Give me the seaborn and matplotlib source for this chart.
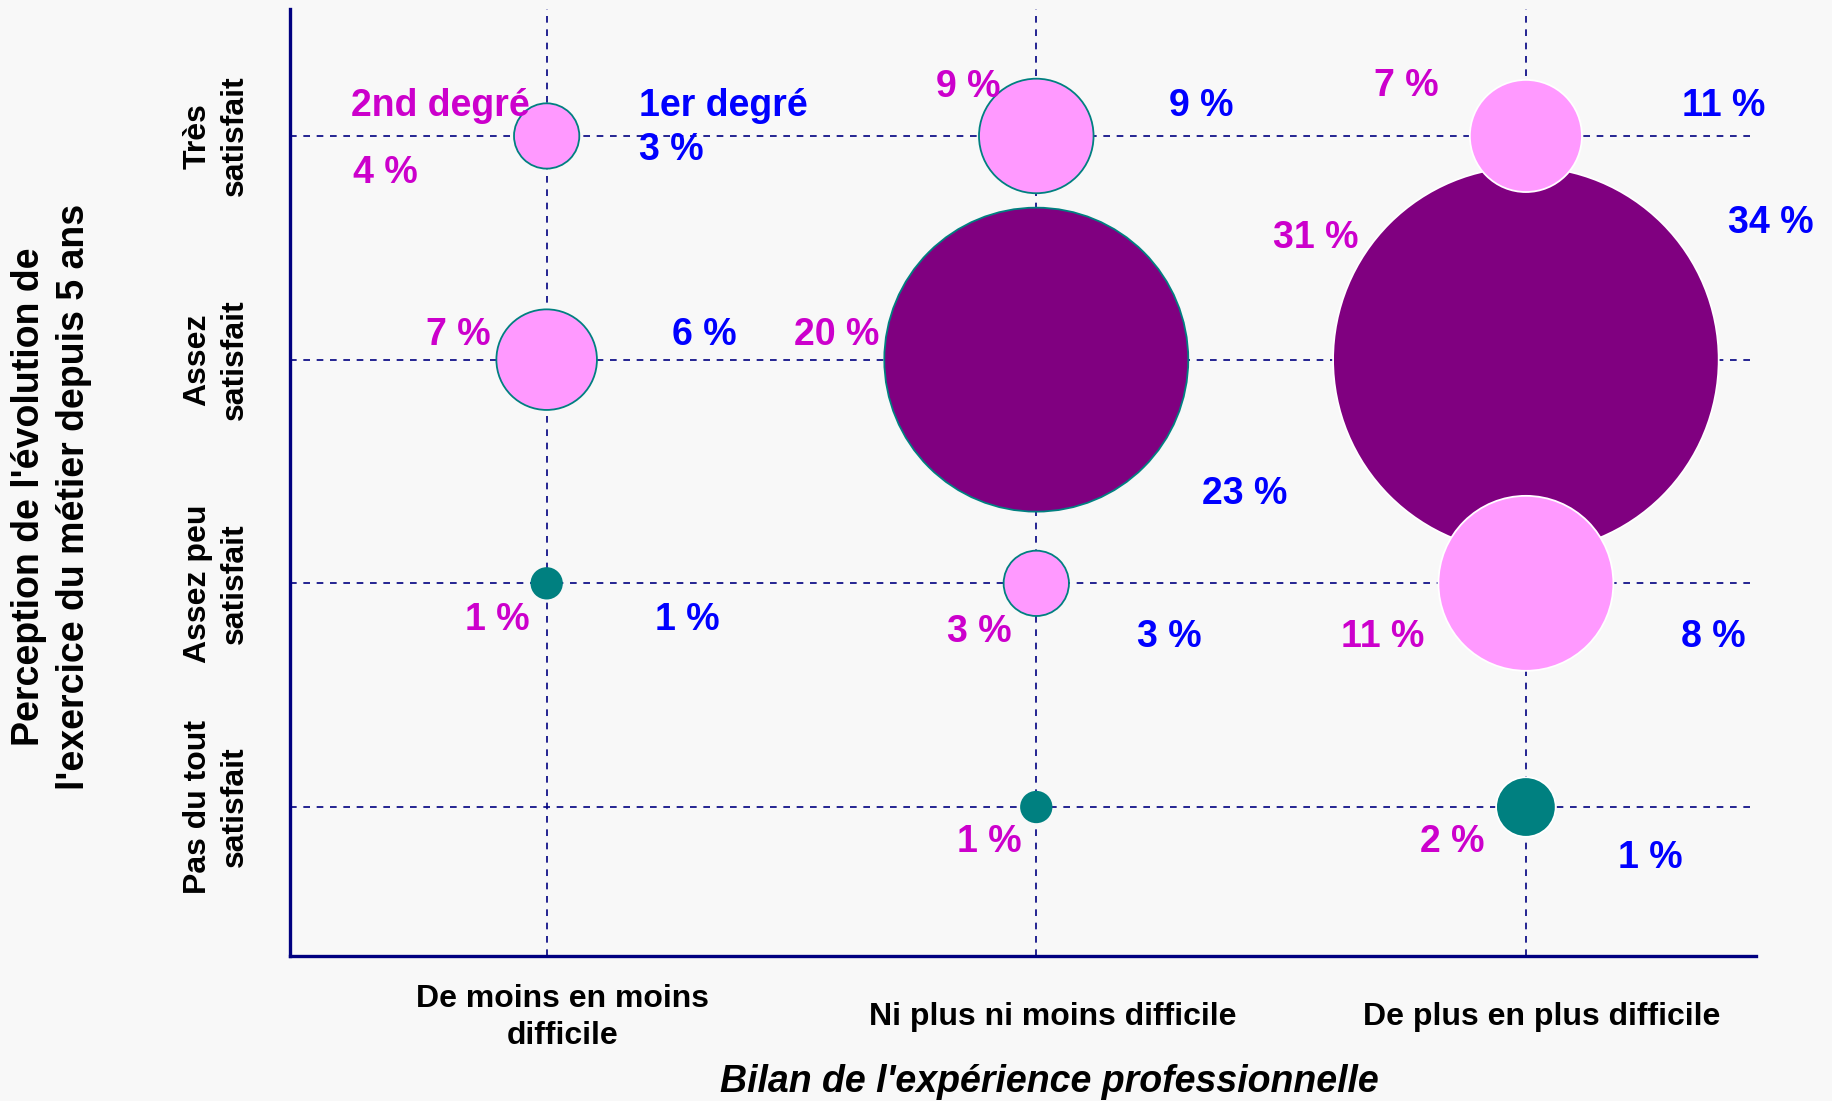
"""Bubble chart: perception of the job's evolution vs. professional experience."""

import matplotlib.pyplot as plt
import pandas as pd
import seaborn as sns
from matplotlib.transforms import ScaledTranslation

# categories (axis order: left to right, bottom to top)
bilan_cats = ["De moins en moins difficile", "Ni plus ni moins difficile", "De plus en plus difficile"]
bilan_ticks = ["De moins en moins\ndifficile", "Ni plus ni moins difficile", "De plus en plus difficile"]
perception_cats = ["Pas du tout satisfait", "Assez peu satisfait", "Assez satisfait", "Très satisfait"]
perception_ticks = ["Pas du tout\nsatisfait", "Assez peu\nsatisfait", "Assez\nsatisfait", "Très\nsatisfait"]

# one entry per bubble
bilan = ["De moins en moins difficile", "Ni plus ni moins difficile", "De plus en plus difficile",
         "De moins en moins difficile", "Ni plus ni moins difficile", "De plus en plus difficile",
         "De moins en moins difficile", "Ni plus ni moins difficile", "De plus en plus difficile",
         "Ni plus ni moins difficile", "De plus en plus difficile"]
perception = ["Très satisfait", "Très satisfait", "Très satisfait",
              "Assez satisfait", "Assez satisfait", "Assez satisfait",
              "Assez peu satisfait", "Assez peu satisfait", "Assez peu satisfait",
              "Pas du tout satisfait", "Pas du tout satisfait"]
pct_2nd = [4, 9, 7, 7, 20, 31, 1, 3, 11, 1, 2]
pct_1er = [3, 9, 11, 6, 23, 34, 1, 3, 8, None, 1]
bubble = [7.8, 24, 23, 18.5, 169, 272, 1.7, 7.8, 56, 1.7, 6.5]
niveau = ["rose", "rose", "rose", "rose", "violet", "violet",
          "sarcelle", "rose", "rose", "sarcelle", "sarcelle"]

# label placement around each grid crossing (pixels)
off_2nd = [(-161, -37), (-68, 49), (-120, 50), (-88, 25), (-200, 25), (-210, 122),
           (-49, -37), (-57, -49), (-143, -54), (-47, -35), (-74, -35)]
off_1er = [(125, -14), (165, 30), (198, 30), (158, 25), (208, -134), (245, 137),
           (141, -37), (133, -54), (187, -54), None, (124, -51)]

NAVY = "#000080"
MAGENTA = "#CC00CC"
BLUE = "#0000FF"
BG = "#F8F8F8"
palette = {"rose": "#FF99FF", "violet": "#800080", "sarcelle": "#008080"}

sns.set_theme(style="white")
plt.rcParams["font.family"] = ["Liberation Sans", "DejaVu Sans"]
plt.rcParams["font.weight"] = "bold"
plt.rcParams["text.color"] = "black"
plt.rcParams["axes.labelcolor"] = "black"
plt.rcParams["xtick.labelcolor"] = "black"
plt.rcParams["ytick.labelcolor"] = "black"

df = pd.DataFrame({
    "bilan": bilan, "perception": perception, "pct_2nd": pct_2nd,
    "pct_1er": pct_1er, "bubble": bubble, "niveau": niveau,
})
df["x"] = df["bilan"].map(bilan_cats.index)
df["y"] = df["perception"].map(perception_cats.index)

fig = plt.figure(figsize=(18.33, 11.01), dpi=100, facecolor=BG)
ax = fig.add_axes([0.158, 0.1317, 0.80, 0.8598])
ax.set_facecolor(BG)

size_kw = dict(size="bubble", sizes=(0, 283.4 * 272), size_norm=(0, 272),
               hue="niveau", palette=palette, legend=False, ax=ax, zorder=3)
# big bubbles first so smaller ones sit on top
order = df.sort_values("bubble", ascending=False)
last_col = order["x"] == 2
sns.scatterplot(data=order[~last_col], x="x", y="y", edgecolor="#008080", linewidth=1.3, **size_kw)
sns.scatterplot(data=order[last_col], x="x", y="y", edgecolor="white", linewidth=1.3, **size_kw)

ax.set_xlim(-0.525, 2.47)
ax.set_ylim(-0.666, 3.566)
ax.set_xticks(range(len(bilan_cats)))
ax.set_xticklabels(bilan_ticks, fontsize=23, fontweight="bold", linespacing=1.3, color="black")
ax.set_yticks(range(len(perception_cats)))
ax.set_yticklabels(perception_ticks, fontsize=23, fontweight="bold", rotation=90,
                   va="center", ha="center", linespacing=1.3, color="black")

ax.tick_params(axis="both", direction="out", length=7, width=1, color=NAVY)
ax.tick_params(axis="x", pad=37)
ax.tick_params(axis="y", pad=46)

# x tick labels sit a little right of their tick
for tick in ax.xaxis.get_major_ticks():
    tick.label1.set_verticalalignment("center")
    tick.label1.set_transform(tick.label1.get_transform()
                              + ScaledTranslation(0.16, 0, fig.dpi_scale_trans))

ax.grid(True, color=NAVY, linestyle=(0, (4, 4)), linewidth=1.2)
ax.set_axisbelow(True)
for side in ["top", "right"]:
    ax.spines[side].set_visible(False)
for side in ["left", "bottom"]:
    ax.spines[side].set_color(NAVY)
    ax.spines[side].set_linewidth(2.4)

ax.set_xlabel("Bilan de l'expérience professionnelle", fontsize=27,
              fontweight="bold", fontstyle="italic", va="top", color="black")
ax.xaxis.set_label_coords(0.518, -0.114)
ax.set_ylabel("Perception de l'évolution de\nl'exercice du métier depuis 5 ans",
              fontsize=27, fontweight="bold", linespacing=1.3, color="black")
ax.yaxis.set_label_coords(-0.135, 0.485)

lab_kw = dict(textcoords="offset pixels", ha="center", va="center",
              fontsize=27, fontweight="bold", zorder=5)
for i, row in df.iterrows():
    ax.annotate(f"{row['pct_2nd']:.0f} %", (row["x"], row["y"]), xytext=off_2nd[i],
                color=MAGENTA, **lab_kw)
    if off_1er[i] is not None and pd.notna(row["pct_1er"]):
        ax.annotate(f"{row['pct_1er']:.0f} %", (row["x"], row["y"]), xytext=off_1er[i],
                    color=BLUE, **lab_kw)

# series names next to the first bubble
first = df.iloc[0]
ax.annotate("2nd degré", (first["x"], first["y"]), xytext=(-106, 30), color=MAGENTA, **lab_kw)
ax.annotate("1er degré", (first["x"], first["y"]), xytext=(177, 30), color=BLUE, **lab_kw)

fig.savefig("out.png", dpi=100, facecolor=BG)
